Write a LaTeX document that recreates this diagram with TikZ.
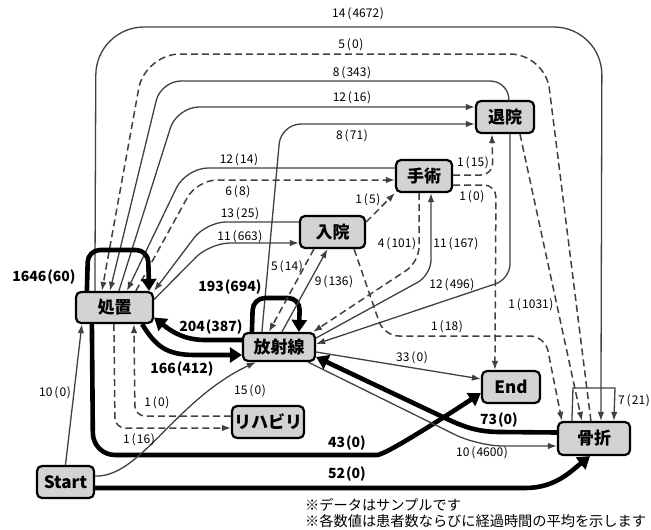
\documentclass[tikz,border=0pt]{standalone}
\usepackage{fontspec}
\setmainfont{Noto Sans CJK JP}
\usetikzlibrary{arrows.meta}
\definecolor{ln}{HTML}{404040}
\definecolor{bx}{HTML}{D3D3D3}
\tikzset{
 box/.style={draw=black, line width=2.2pt, fill=bx, rounded corners=5pt, inner sep=0pt, font=\fontsize{17}{17}\selectfont\bfseries},
 thinl/.style={draw=ln, line width=1.3pt},
 dashl/.style={draw=ln, line width=1.5pt, dash pattern=on 7pt off 4pt},
 thickl/.style={draw=black, line width=4.6pt},
 ta/.style={-{Latex[length=9pt,width=6.5pt]}},
 ka/.style={-{Triangle[length=12pt,width=15pt]}},
 lab/.style={font=\fontsize{12}{12}\selectfont, inner sep=0pt},
 blab/.style={font=\fontsize{14}{15}\selectfont\bfseries, inner sep=0pt},
 note/.style={font=\fontsize{14.2}{15}\selectfont, inner sep=0pt, anchor=west},
}
\newcommand\lb[2]{#1\hspace{0.15em}(\hspace{0.1em}#2\hspace{0.05em})}
\newcommand\lbb[2]{#1\hspace{0.06em}(#2)}
\begin{document}
\begin{tikzpicture}[x=1pt,y=-1pt]
\useasboundingbox (0,0) rectangle (651,530);
% nodes
\node[box, minimum width=77pt, minimum height=31pt] (sho) at (114.5,307.5) {処置};
\node[box, minimum width=72pt, minimum height=28pt] (hou) at (279,347) {放射線};
\node[box, minimum width=65pt, minimum height=32pt] (nyu) at (332.5,232) {入院};
\node[box, minimum width=56pt, minimum height=32pt] (shu) at (424,176) {手術};
\node[box, minimum width=58pt, minimum height=32pt] (tai) at (505,117) {退院};
\node[box, minimum width=58pt, minimum height=32pt] (end) at (511,387) {End};
\node[box, minimum width=72pt, minimum height=33pt] (kos) at (594,438.5) {骨折};
\node[box, minimum width=72pt, minimum height=32pt] (rih) at (268,422) {リハビリ};
\node[box, minimum width=57pt, minimum height=32pt] (sta) at (65.5,482) {Start};
% edges
\draw[thinl, ta, rounded corners=48pt] ([xshift=20pt]sho.north west) -- (96,27) -- (602,27) -- ([xshift=44pt]kos.north west);
\draw[dashl, ta, rounded corners=35pt] ([xshift=34pt]kos.north west) -- (545,54) -- (145,54) -- ([xshift=27pt]sho.north west);
\draw[thinl, ta, rounded corners=20pt] ([xshift=34pt]tai.north west) -- (510,81) -- (161,81) -- ([xshift=35pt]sho.north west);
\draw[thinl, ta, rounded corners=22pt] ([xshift=44pt]sho.north west) -- (177,107) -- ([yshift=10pt]tai.west);
\draw[thinl, ta, rounded corners=20pt] ([xshift=20pt]hou.north west) -- (281,124) -- ([yshift=-7pt]tai.west);
\draw[thinl, ta, rounded corners=22pt] ([yshift=8pt]shu.west) -- (186,168) -- ([xshift=52pt]sho.north west);
\draw[dashl, ta, rounded corners=20pt] ([xshift=61pt]sho.north west) -- (197,180) -- ([yshift=-4pt]shu.west);
\draw[thinl, ta, rounded corners=20pt] ([yshift=10pt]nyu.west) -- (206,222) -- (sho.north east);
\draw[thinl, ta, rounded corners=20pt] ([yshift=8pt]sho.east) -- (210,243) -- ([yshift=-11pt]nyu.west);
\draw[thickl, ka, rounded corners=12pt] ([xshift=12pt]sho.north west) -- (88,250) -- (148,250) -- ([xshift=-5pt]sho.north east);
\draw[thickl, ka, rounded corners=22pt] ([xshift=17pt]sho.south west) -- (93,455) -- (355,455) .. controls (385,455) and (440,420) .. ([yshift=-6pt]end.west);
\draw[dashl, ta, rounded corners=10pt] ([xshift=39pt]sho.south west) -- (115,428) -- ([yshift=-6pt]rih.west);
\draw[dashl, ta, rounded corners=10pt] ([yshift=6pt]rih.west) -- (135,416) -- ([xshift=59pt]sho.south west);
\draw[thinl, ta] (sta.north) -- ([xshift=7pt]sho.south west);
\draw[thinl, ta] ([yshift=6pt]sta.east) .. controls (140,478) and (175,400) .. ([xshift=14pt]hou.south west);
\draw[thickl, ka] ([yshift=-6pt]sta.east) -- (525,488) .. controls (555,488) and (570,472) .. ([xshift=-4pt]kos.south);
\draw[thickl, ka] ([yshift=6pt]kos.west) -- (500,432) .. controls (475,432) and (460,425) .. (445,418) -- ([yshift=-10pt]hou.east);
\draw[thinl, ta, rounded corners=25pt] ([xshift=-8pt]hou.south east) -- (478,446) -- ([yshift=-7.5pt]kos.west);
\draw[thinl, ta] ([yshift=-5pt]hou.east) -- ([yshift=8pt]end.west);
\draw[thickl, ka, rounded corners=12pt] ([xshift=10pt]hou.north west) -- (253,298) -- (300,298) -- ([xshift=57pt]hou.north west);
\draw[thickl, ka] ([xshift=-12pt]sho.south east) .. controls (155,345) and (165,355) .. (195,355) -- ([yshift=-8pt]hou.west);
\draw[thickl, ka] ([yshift=7pt]hou.west) -- (205,340) .. controls (185,340) and (172,332) .. ([yshift=-10pt]sho.east);
\draw[dashl, ta] ([xshift=15pt]nyu.south west) -- ([xshift=27pt]hou.north west);
\draw[thinl, ta] ([xshift=40pt]hou.north west) -- ([xshift=-5pt]nyu.south);
\draw[dashl, ta] ([yshift=10pt]nyu.east) -- (shu.south west);
\draw[dashl, ta, rounded corners=15pt] ([xshift=-12pt]nyu.south east) -- (384,336) -- (545,336) -- ([xshift=5pt]kos.north west);
\draw[dashl, ta, rounded corners=15pt] ([xshift=-5pt]shu.south) -- (419,262) -- ([xshift=-3pt]hou.north east);
\draw[thinl, ta, rounded corners=15pt] ([yshift=9pt]hou.east) -- (431,275) -- ([xshift=7pt]shu.south);
\draw[thinl, ta, rounded corners=15pt] ([xshift=5pt]tai.south) -- (510,279) -- ([yshift=3pt]hou.east);
\draw[dashl, ta, rounded corners=12pt] ([yshift=1pt]shu.east) -- (493,175) -- ([xshift=17pt]tai.south west);
\draw[dashl, ta, rounded corners=12pt] ([yshift=-9pt]shu.east) -- (496,185) -- ([xshift=14pt]end.north west);
\draw[dashl, ta] ([xshift=15pt]tai.south) -- ([xshift=25pt]kos.north west);
\draw[thinl, ta] ([xshift=15pt]kos.north west) -- (573,388) -- (615,388) -- ([xshift=57pt]kos.north west);
% labels
\node[lab] (l1) at (358,14) {\lb{14}{4672}};
\node[lab] (l2) at (351,45) {\lb{5}{0}};
\node[lab] (l3) at (352,73) {\lb{8}{343}};
\node[lab] (l4) at (352,98) {\lb{12}{16}};
\node[lab] (l5) at (352,136) {\lb{8}{71}};
\node[lab] (l6) at (239,160) {\lb{12}{14}};
\node[lab] (l7) at (238,192) {\lb{6}{8}};
\node[lab] (l8) at (240,214) {\lb{13}{25}};
\node[lab] (l9) at (240,237) {\lb{11}{663}};
\node[lab] (l10) at (368,200) {\lb{1}{5}};
\node[lab] (l11) at (473,163) {\lb{1}{15}};
\node[lab] (l12) at (472,197) {\lb{1}{0}};
\node[lab] (l13) at (397,244) {\lb{4}{101}};
\node[lab] (l14) at (456,244) {\lb{11}{167}};
\node[lab] (l15) at (452,285) {\lb{12}{496}};
\node[lab] (l16) at (447,327) {\lb{1}{18}};
\node[lab] (l17) at (531,305) {\lb{1}{1031}};
\node[lab] (l18) at (287,267) {\lb{5}{14}};
\node[lab] (l19) at (334,282) {\lb{9}{136}};
\node[lab] (l20) at (55,393) {\lb{10}{0}};
\node[lab] (l21) at (250,391) {\lb{15}{0}};
\node[lab] (l22) at (157,403) {\lb{1}{0}};
\node[lab] (l23) at (139,440) {\lb{1}{16}};
\node[lab] (l24) at (412,358) {\lb{33}{0}};
\node[lab] (l25) at (482,453) {\lb{10}{4600}};
\node[lab] (l26) at (634,401) {\lb{7}{21}};
\node[blab] (b1) at (44,277) {\lbb{1646}{60}};
\node[blab] (b2) at (230,287) {\lbb{193}{694}};
\node[blab] (b3) at (211,327) {\lbb{204}{387}};
\node[blab] (b4) at (182,369) {\lbb{166}{412}};
\node[blab] (b5) at (499,420) {\lbb{73}{0}};
\node[blab] (b6) at (347,443) {\lbb{43}{0}};
\node[blab] (b7) at (347,474) {\lbb{52}{0}};
\node[note] (n1) at (305,505) {※データはサンプルです};
\node[note] (n2) at (305,521) {※各数値は患者数ならびに経過時間の平均を示します};
\end{tikzpicture}
\end{document}
